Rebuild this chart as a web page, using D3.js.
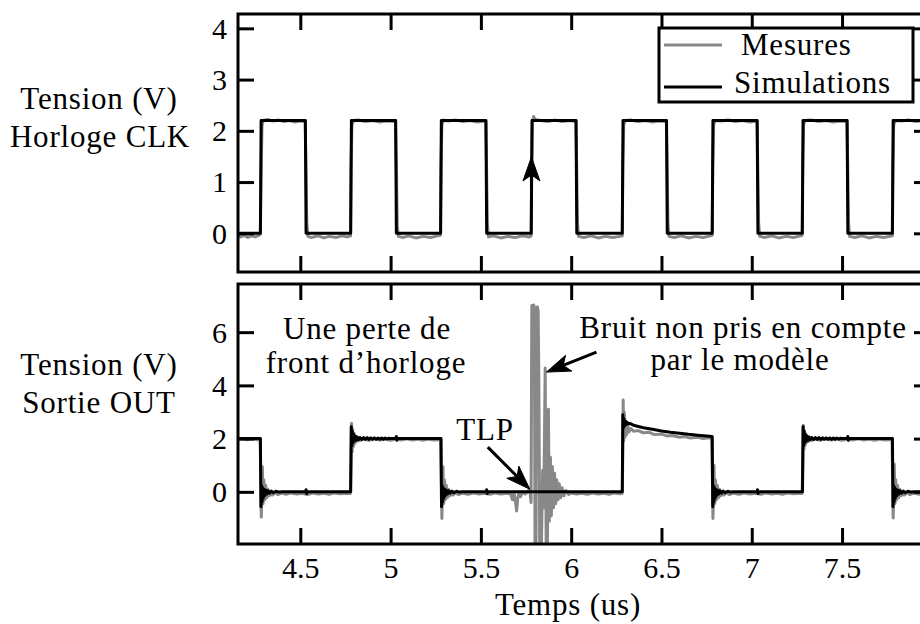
<!DOCTYPE html>
<html>
<head>
<meta charset="utf-8">
<script src="https://cdn.jsdelivr.net/npm/d3@7"></script>
<style>
html,body{margin:0;padding:0;background:#fff;}
svg text{font-family:"Liberation Serif","Times New Roman",serif;fill:#000;}
</style>
</head>
<body>
<div id="chart"></div>
<script>
// ---------------- DATA ----------------
const xTickValues = [4.5, 5, 5.5, 6, 6.5, 7, 7.5];
const xTickLabels = ["4.5", "5", "5.5", "6", "6.5", "7", "7.5"];
const clkTickValues = [0, 1, 2, 3, 4];
const outTickValues = [0, 2, 4, 6];
const seriesNames = ["Mesures", "Simulations"];

// Clock (CLK) – simulation
const clkSim = [
[4.155,0],[4.279,0],[4.283,2.2],[4.528,2.2],[4.532,0],[4.779,0],[4.783,2.2],[5.028,2.2],[5.032,0],
[5.277,0],[5.281,2.2],[5.528,2.2],[5.532,0],[5.779,0],[5.783,2.2],[6.027,2.2],[6.031,0],
[6.283,0],[6.287,2.2],[6.528,2.2],[6.532,0],[6.781,0],[6.785,2.2],[7.030,2.2],[7.034,0],
[7.280,0],[7.284,2.2],[7.528,2.2],[7.532,0],[7.779,0],[7.783,2.2],[7.99,2.2]
];
// Clock (CLK) – measurement
const clkMes = [
[4.155,-0.05],[4.17,-0.07],[4.19,-0.04],[4.21,-0.08],[4.23,-0.05],[4.25,-0.07],[4.27,-0.04],
[4.279,-0.02],[4.283,1.2],[4.288,2.1],[4.295,2.2],
[4.32,2.22],[4.35,2.19],[4.38,2.21],[4.41,2.18],[4.44,2.2],[4.47,2.17],[4.5,2.19],[4.527,2.18],
[4.531,1.4],[4.536,0.2],[4.542,-0.06],
[4.56,-0.08],[4.6,-0.05],[4.63,-0.09],[4.66,-0.06],[4.7,-0.08],[4.73,-0.05],[4.76,-0.07],[4.778,-0.05],
[4.781,1.3],[4.786,2.12],[4.795,2.2],
[4.82,2.21],[4.86,2.18],[4.9,2.2],[4.94,2.17],[4.98,2.19],[5.027,2.18],
[5.032,1.3],[5.037,0.15],[5.043,-0.06],
[5.07,-0.08],[5.1,-0.05],[5.14,-0.09],[5.18,-0.06],[5.22,-0.08],[5.26,-0.05],[5.276,-0.04],
[5.279,1.3],[5.284,2.12],[5.294,2.21],
[5.32,2.19],[5.36,2.21],[5.4,2.18],[5.44,2.2],[5.48,2.17],[5.527,2.19],
[5.531,1.4],[5.536,0.2],[5.542,-0.07],
[5.57,-0.05],[5.61,-0.09],[5.65,-0.06],[5.69,-0.08],[5.73,-0.05],[5.77,-0.07],[5.778,-0.05],
[5.781,1.2],[5.786,2.15],[5.792,2.28],[5.80,2.22],
[5.83,2.2],[5.87,2.18],[5.91,2.21],[5.95,2.18],[5.99,2.2],[6.026,2.18],
[6.030,1.4],[6.035,0.2],[6.041,-0.06],
[6.07,-0.08],[6.11,-0.05],[6.15,-0.09],[6.19,-0.06],[6.23,-0.08],[6.27,-0.06],[6.283,-0.05],
[6.286,1.3],[6.291,2.12],[6.299,2.2],
[6.33,2.21],[6.37,2.18],[6.41,2.2],[6.45,2.17],[6.49,2.19],[6.527,2.18],
[6.531,1.4],[6.536,0.2],[6.542,-0.06],
[6.57,-0.08],[6.61,-0.05],[6.65,-0.09],[6.69,-0.06],[6.73,-0.08],[6.77,-0.05],[6.781,-0.04],
[6.784,1.3],[6.789,2.12],[6.797,2.2],
[6.83,2.19],[6.87,2.21],[6.91,2.18],[6.95,2.2],[6.99,2.17],[7.029,2.19],
[7.033,1.4],[7.038,0.2],[7.044,-0.06],
[7.07,-0.08],[7.11,-0.05],[7.15,-0.09],[7.19,-0.06],[7.23,-0.08],[7.27,-0.05],[7.279,-0.04],
[7.282,1.3],[7.287,2.12],[7.295,2.2],
[7.33,2.21],[7.37,2.18],[7.41,2.2],[7.45,2.17],[7.49,2.19],[7.527,2.18],
[7.531,1.4],[7.536,0.2],[7.542,-0.06],
[7.57,-0.08],[7.61,-0.05],[7.65,-0.09],[7.69,-0.06],[7.73,-0.08],[7.778,-0.05],
[7.781,1.3],[7.786,2.12],[7.795,2.2],
[7.83,2.19],[7.87,2.21],[7.91,2.18],[7.95,2.2],[7.99,2.19]
];

// Output (OUT) – simulation
const outSim = [
[4.155,2.0],[4.279,2.0],
[4.282,-0.56],[4.285,0.25],[4.288,-0.38],[4.291,0.16],[4.295,-0.24],[4.299,0.1],[4.304,-0.14],[4.309,0.06],[4.315,-0.08],[4.322,0.04],[4.33,-0.05],[4.34,0.03],[4.35,-0.03],[4.365,0.02],[4.38,-0.01],[4.40,0],
[4.53,0],[4.532,0.08],[4.535,-0.06],[4.538,0],
[4.779,0],
[4.782,2.45],[4.785,1.72],[4.788,2.28],[4.791,1.84],[4.795,2.17],[4.799,1.9],[4.804,2.1],[4.809,1.94],[4.815,2.06],[4.822,1.96],[4.83,2.04],
[4.84,1.97],[4.85,2.035],[4.86,1.97],[4.87,2.035],[4.88,1.97],[4.89,2.03],[4.9,1.975],[4.91,2.03],[4.92,1.975],[4.93,2.025],[4.94,1.98],[4.95,2.02],[4.96,1.98],[4.97,2.02],[4.98,1.985],[4.99,2.015],[5.0,2.0],
[5.03,2.0],[5.032,2.08],[5.035,1.94],[5.038,2.0],
[5.279,2.0],
[5.282,-0.56],[5.285,0.25],[5.288,-0.38],[5.291,0.16],[5.295,-0.24],[5.299,0.1],[5.304,-0.14],[5.309,0.06],[5.315,-0.08],[5.322,0.04],[5.33,-0.05],[5.34,0.03],[5.35,-0.03],[5.365,0.02],[5.38,-0.01],[5.40,0],
[5.53,0],[5.532,0.08],[5.535,-0.06],[5.538,0],
[6.283,0],
[6.286,2.9],[6.289,2.4],[6.292,2.75],[6.296,2.48],[6.3,2.66],[6.305,2.53],[6.31,2.61],[6.317,2.55],[6.325,2.57],
[6.35,2.49],[6.4,2.41],[6.45,2.35],[6.5,2.29],[6.55,2.24],[6.6,2.2],[6.65,2.16],[6.7,2.13],[6.75,2.1],[6.781,2.08],
[6.784,-0.56],[6.787,0.25],[6.79,-0.38],[6.793,0.16],[6.797,-0.24],[6.801,0.1],[6.806,-0.14],[6.811,0.06],[6.817,-0.08],[6.824,0.04],[6.832,-0.05],[6.842,0.03],[6.852,-0.03],[6.867,0.02],[6.882,-0.01],[6.90,0],
[7.03,0],[7.032,0.08],[7.035,-0.06],[7.038,0],
[7.281,0],
[7.284,2.45],[7.287,1.72],[7.29,2.28],[7.293,1.84],[7.297,2.17],[7.301,1.9],[7.306,2.1],[7.311,1.94],[7.317,2.06],[7.324,1.96],[7.332,2.04],
[7.342,1.97],[7.352,2.035],[7.362,1.97],[7.372,2.035],[7.382,1.97],[7.392,2.03],[7.402,1.975],[7.412,2.03],[7.422,1.975],[7.432,2.025],[7.442,1.98],[7.452,2.02],[7.462,1.98],[7.472,2.02],[7.482,1.985],[7.492,2.015],[7.5,2.0],
[7.53,2.0],[7.532,2.08],[7.535,1.94],[7.538,2.0],
[7.779,2.0],
[7.782,-0.56],[7.785,0.25],[7.788,-0.38],[7.791,0.16],[7.795,-0.24],[7.799,0.1],[7.804,-0.14],[7.809,0.06],[7.815,-0.08],[7.822,0.04],[7.83,-0.05],[7.84,0.03],[7.85,-0.03],[7.865,0.02],[7.88,-0.01],[7.90,0],[7.99,0]
];

// Output (OUT) – measurement
const outMes = [
[4.155,1.97],[4.18,2.0],[4.2,1.96],[4.23,1.99],[4.26,1.96],[4.278,1.97],
[4.281,0.5],[4.284,-0.95],[4.287,-0.2],[4.29,0.94],[4.294,-0.45],[4.298,0.45],[4.303,-0.3],[4.308,0.25],[4.314,-0.22],[4.32,0.1],[4.328,-0.15],[4.336,0.02],[4.345,-0.12],[4.36,-0.03],[4.375,-0.1],
[4.4,-0.05],[4.42,-0.09],[4.45,-0.04],[4.48,-0.08],[4.51,-0.05],[4.54,-0.1],[4.57,-0.04],[4.6,-0.08],[4.63,-0.05],[4.66,-0.09],[4.69,-0.04],[4.72,-0.07],[4.75,-0.05],[4.777,-0.06],
[4.781,1.2],[4.784,2.58],[4.787,1.5],[4.79,2.35],[4.794,1.7],[4.798,2.2],[4.803,1.82],[4.808,2.08],[4.814,1.9],[4.82,2.02],[4.83,1.92],
[4.85,1.98],[4.88,1.94],[4.91,1.99],[4.94,1.95],[4.97,1.98],[5.0,1.94],[5.03,1.98],[5.06,1.95],[5.09,1.99],[5.12,1.95],[5.15,1.98],[5.18,1.94],[5.21,1.98],[5.24,1.95],[5.278,1.97],
[5.281,0.5],[5.284,-1.0],[5.287,-0.2],[5.29,0.95],[5.294,-0.45],[5.298,0.45],[5.303,-0.3],[5.308,0.25],[5.314,-0.22],[5.32,0.1],[5.328,-0.15],[5.336,0.02],[5.345,-0.12],[5.36,-0.03],[5.375,-0.1],
[5.4,-0.05],[5.43,-0.09],[5.46,-0.04],[5.49,-0.08],[5.52,-0.05],[5.55,-0.09],[5.58,-0.04],[5.61,-0.08],[5.64,-0.05],[5.665,-0.08],[5.675,-0.3],[5.684,-0.05],[5.693,-0.45],[5.698,-0.72],[5.703,-0.3],[5.71,-0.05],[5.72,-0.18],[5.73,-0.02],[5.745,-0.08],[5.76,0.0],[5.77,0.12],[5.778,-0.4],
[5.782,7.0],[5.787,6.92],[5.792,7.02],[5.796,6.95],[5.8,-2.5],[5.805,-2.5],[5.809,6.6],[5.813,6.95],[5.817,6.8],[5.821,4.2],[5.826,-2.5],[5.834,-2.5],[5.842,0.8],[5.848,-0.6],[5.856,4.65],[5.862,-2.5],[5.868,-2.3],[5.874,3.1],[5.879,-1.1],[5.885,1.3],[5.89,-0.9],[5.896,0.95],[5.902,-0.6],[5.908,0.7],[5.914,-0.45],[5.92,0.45],[5.927,-0.3],[5.934,0.3],[5.942,-0.22],[5.95,0.15],[5.96,-0.15],[5.97,0.05],[5.985,-0.1],
[6.0,-0.04],[6.03,-0.08],[6.06,-0.05],[6.09,-0.09],[6.12,-0.04],[6.15,-0.08],[6.18,-0.05],[6.21,-0.09],[6.24,-0.04],[6.27,-0.07],[6.283,-0.05],
[6.286,1.5],[6.288,3.45],[6.291,1.9],[6.294,3.0],[6.298,2.05],[6.302,2.65],[6.307,2.15],[6.313,2.45],[6.32,2.25],[6.33,2.38],[6.345,2.28],
[6.37,2.3],[6.4,2.22],[6.43,2.24],[6.46,2.15],[6.5,2.17],[6.53,2.1],[6.56,2.12],[6.6,2.05],[6.63,2.08],[6.66,2.02],[6.7,2.05],[6.73,2.0],[6.76,2.03],[6.779,2.0],
[6.782,0.5],[6.785,-1.0],[6.788,-0.2],[6.791,1.0],[6.795,-0.45],[6.799,0.45],[6.804,-0.3],[6.809,0.25],[6.815,-0.22],[6.821,0.1],[6.829,-0.15],[6.837,0.02],[6.846,-0.12],[6.86,-0.03],[6.875,-0.1],
[6.9,-0.05],[6.93,-0.09],[6.96,-0.04],[6.99,-0.08],[7.02,-0.05],[7.05,-0.09],[7.08,-0.04],[7.11,-0.08],[7.14,-0.05],[7.17,-0.09],[7.2,-0.04],[7.23,-0.07],[7.26,-0.05],[7.279,-0.06],
[7.283,1.2],[7.286,2.5],[7.289,1.6],[7.292,2.3],[7.296,1.75],[7.3,2.15],[7.305,1.85],[7.31,2.05],[7.316,1.9],[7.323,2.0],[7.333,1.93],
[7.35,1.98],[7.38,1.94],[7.41,1.99],[7.44,1.95],[7.47,1.98],[7.5,1.94],[7.53,1.98],[7.56,1.95],[7.59,1.99],[7.62,1.95],[7.65,1.98],[7.68,1.94],[7.71,1.98],[7.74,1.95],[7.777,1.97],
[7.78,0.5],[7.783,-0.98],[7.786,-0.15],[7.789,1.05],[7.793,-0.45],[7.797,0.45],[7.802,-0.3],[7.807,0.25],[7.813,-0.22],[7.819,0.1],[7.827,-0.15],[7.835,0.02],[7.844,-0.12],[7.86,-0.03],[7.875,-0.1],
[7.9,-0.05],[7.93,-0.09],[7.96,-0.04],[7.99,-0.07]
];

// ---------------- CHART ----------------
const W = 920, H = 624;
const L = 238, R = 930;
const topY0 = 14, topY1 = 272, botY0 = 284, botY1 = 544;
const FONT = 31, TICKFONT = 30, LS = "0.8px";
const GRAY = "#888888";

const svg = d3.select("#chart").append("svg")
  .attr("width", W).attr("height", H).attr("viewBox", `0 0 ${W} ${H}`);
svg.append("rect").attr("width", W).attr("height", H).attr("fill", "#fff");

const x = d3.scaleLinear().domain([4.155, 7.987]).range([L, R]);
const yTop = d3.scaleLinear().domain([-0.755, 4.28]).range([topY1, topY0]);
const yBot = d3.scaleLinear().domain([-1.96, 7.81]).range([botY1, botY0]);

const defs = svg.append("defs");
defs.append("clipPath").attr("id", "clipTop").append("rect")
  .attr("x", L).attr("y", topY0).attr("width", R - L).attr("height", topY1 - topY0);
defs.append("clipPath").attr("id", "clipBot").append("rect")
  .attr("x", L).attr("y", botY0).attr("width", R - L).attr("height", botY1 - botY0);

function drawLines(y, clipId, mes, sim) {
  const line = d3.line().x(d => x(d[0])).y(d => y(d[1]));
  const g = svg.append("g").attr("clip-path", `url(#${clipId})`);
  g.append("path").attr("d", line(mes)).attr("fill", "none")
    .attr("stroke", GRAY).attr("stroke-width", 3).attr("stroke-linejoin", "round");
  g.append("path").attr("d", line(sim)).attr("fill", "none")
    .attr("stroke", "#000").attr("stroke-width", 3).attr("stroke-linejoin", "round");
}
drawLines(yTop, "clipTop", clkMes, clkSim);
drawLines(yBot, "clipBot", outMes, outSim);

function styleAxis(g) {
  g.select(".domain").remove();
  g.selectAll(".tick line").attr("stroke", "#000").attr("stroke-width", 3);
  g.selectAll("text").style("font-family", "'Liberation Serif', serif").attr("font-size", TICKFONT).attr("fill", "#000");
}

function panelAxes(y, y0, y1, yTicks, showX) {
  const gb = svg.append("g").attr("transform", `translate(0,${y1})`)
    .call(d3.axisBottom(x).tickValues(xTickValues).tickSize(-16)
      .tickFormat((d, i) => showX ? xTickLabels[i] : ""));
  styleAxis(gb);
  gb.selectAll("text").attr("y", 34).attr("dy", "0");
  const gt = svg.append("g").attr("transform", `translate(0,${y0})`)
    .call(d3.axisTop(x).tickValues(xTickValues).tickSize(-16).tickFormat(""));
  styleAxis(gt);
  const gl = svg.append("g").attr("transform", `translate(${L},0)`)
    .call(d3.axisLeft(y).tickValues(yTicks).tickSize(-16).tickFormat(d3.format("d")));
  styleAxis(gl);
  gl.selectAll("text").attr("x", -11).attr("dy", "0.33em");
  const gr = svg.append("g").attr("transform", `translate(${R},0)`)
    .call(d3.axisRight(y).tickValues(yTicks).tickSize(-16).tickFormat(""));
  styleAxis(gr);
  svg.append("rect").attr("x", L).attr("y", y0).attr("width", R - L).attr("height", y1 - y0)
    .attr("fill", "none").attr("stroke", "#000").attr("stroke-width", 3);
}
panelAxes(yTop, topY0, topY1, clkTickValues, false);
panelAxes(yBot, botY0, botY1, outTickValues, true);

function text(tx, ty, s, anchor, size) {
  svg.append("text").attr("x", tx).attr("y", ty).attr("text-anchor", anchor || "middle")
    .style("font-family", "'Liberation Serif', serif")
    .attr("font-size", size || FONT).attr("letter-spacing", LS).text(s);
}

// Y axis titles
text(99, 109, "Tension (V)");
text(100, 147, "Horloge CLK");
text(99, 375, "Tension (V)");
text(99, 413, "Sortie OUT");
// X axis title
text(568, 615, "Temps (us)");

// Legend
const lg = svg.append("g");
lg.append("rect").attr("x", 659).attr("y", 28).attr("width", 254).attr("height", 74)
  .attr("fill", "#fff").attr("stroke", "#000").attr("stroke-width", 3);
lg.append("line").attr("x1", 664).attr("x2", 722).attr("y1", 45).attr("y2", 45)
  .attr("stroke", GRAY).attr("stroke-width", 3);
lg.append("line").attr("x1", 664).attr("x2", 722).attr("y1", 87).attr("y2", 87)
  .attr("stroke", "#000").attr("stroke-width", 3);
text(741, 55, seriesNames[0], "start");
text(734, 93, seriesNames[1], "start");

// Arrows
function arrow(x1, y1, x2, y2) {
  const dx = x2 - x1, dy = y2 - y1, len = Math.hypot(dx, dy);
  const ux = dx / len, uy = dy / len, px = -uy, py = ux;
  const hl = 24, hw = 8.5, notch = 6;
  const bx = x2 - ux * hl, by = y2 - uy * hl;
  const nx = x2 - ux * (hl - notch), ny = y2 - uy * (hl - notch);
  svg.append("line").attr("x1", x1).attr("y1", y1).attr("x2", nx).attr("y2", ny)
    .attr("stroke", "#000").attr("stroke-width", 3);
  svg.append("path").attr("d",
    `M${x2},${y2} L${bx + px * hw},${by + py * hw} L${nx},${ny} L${bx - px * hw},${by - py * hw} Z`)
    .attr("fill", "#000").attr("stroke", "#000").attr("stroke-width", 1).attr("stroke-linejoin", "miter");
}
arrow(x(5.78), yTop(0.88), x(5.78), yTop(1.49));
arrow(x(5.538), yBot(1.68), x(5.771), yBot(0.1));
arrow(x(6.14), yBot(5.25), x(5.863), yBot(4.5));

// Annotation texts
text(367, 339, "Une perte de");
text(366, 373, "front d’horloge");
text(485, 440, "TLP");
text(743, 338, "Bruit non pris en compte");
text(740, 370, "par le modèle");
</script>
</body>
</html>
